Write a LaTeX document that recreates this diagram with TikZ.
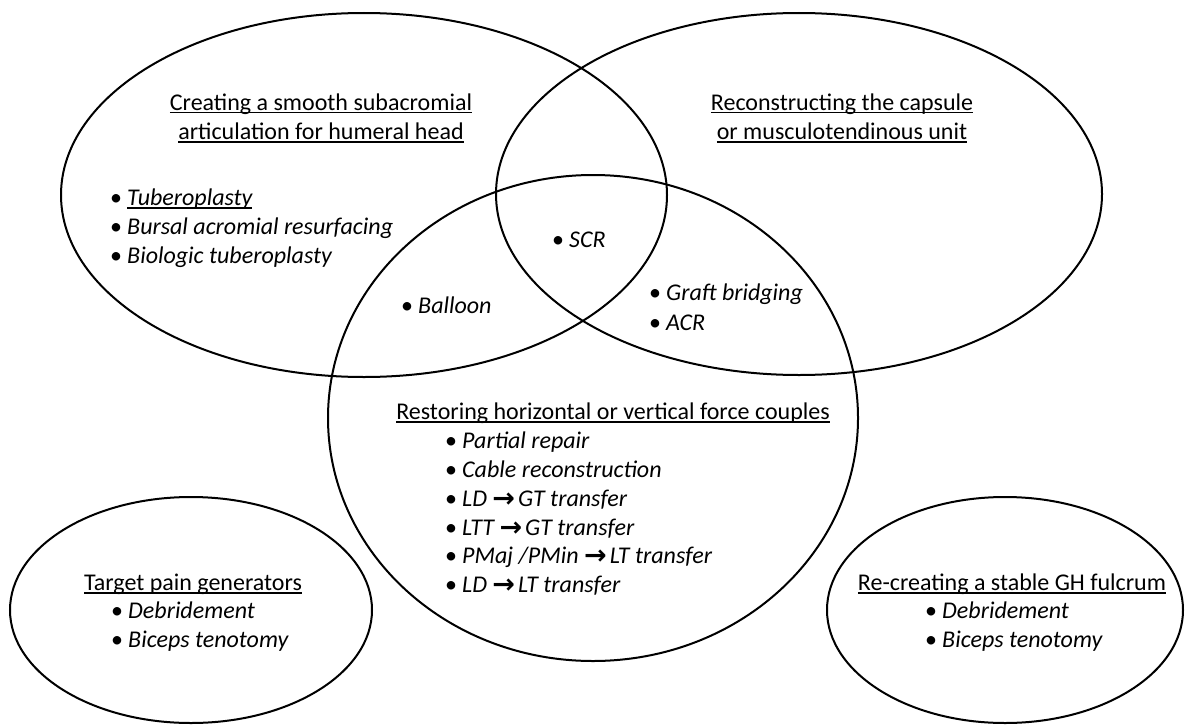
\documentclass[tikz,border=0pt]{standalone}
\usepackage{fontspec}
\setmainfont{Carlito}
\newfontfamily\symfont{DejaVu Sans}
\newcommand\ulbox[1]{\setbox0=\hbox{#1}\rlap{\rule[-3.5pt]{\wd0}{1.3pt}}\box0}
\newcommand\bul{\makebox[22pt][c]{\upshape •}}
\newcommand\arrw{\raisebox{-1pt}{\upshape\symfont\bfseries\fontsize{27pt}{29pt}\selectfont →}\hspace{3pt}}
\tikzset{
  ring/.style={draw=black, line width=2pt},
  ttl/.style={inner sep=0pt, anchor=base, font=\fontsize{24pt}{29pt}\selectfont},
  item/.style={inner sep=0pt, anchor=base west, font=\fontsize{24pt}{29pt}\selectfont\itshape}
}
\begin{document}
\begin{tikzpicture}[x=1pt,y=-1pt]
\useasboundingbox (0,0) rectangle (1185,725);
% circles
\draw[ring] (364,195) ellipse [x radius=303, y radius=182];
\draw[ring] (799,194) ellipse [x radius=303, y radius=181];
\draw[ring] (593,418) ellipse [x radius=265, y radius=243];
\draw[ring] (191,610) ellipse [x radius=181, y radius=113];
\draw[ring] (1005,610) ellipse [x radius=178, y radius=113];
% left set
\node[ttl] (t1a) at (321,110) {\ulbox{Creating a smooth subacromial}};
\node[ttl] (t1b) at (321,139) {\ulbox{articulation for humeral head}};
\node[item] (l1) at (105,205) {\bul\ulbox{Tuberoplasty}};
\node[item] (l2) at (105,234) {\bul Bursal acromial resurfacing};
\node[item] (l3) at (105,263) {\bul Biologic tuberoplasty};
% right set
\node[ttl] (t2a) at (842,110) {\ulbox{Reconstructing the capsule}};
\node[ttl] (t2b) at (842,139) {\ulbox{or musculotendinous unit}};
% intersections
\node[item] (scr) at (547,247) {\bul SCR};
\node[item] (bal) at (396,313) {\bul Balloon};
\node[item] (gb) at (644,300) {\bul Graft bridging};
\node[item] (acr) at (644,330) {\bul ACR};
% bottom set
\node[ttl] (t3) at (613,419) {\ulbox{Restoring horizontal or vertical force couples}};
\node[item] (r1) at (440,448) {\bul Partial repair};
\node[item] (r2) at (440,477) {\bul Cable reconstruction};
\node[item] (r3) at (440,506) {\bul LD \arrw GT transfer};
\node[item] (r4) at (440,535) {\bul LTT \arrw GT transfer};
\node[item] (r5) at (440,563) {\bul PMaj /PMin \arrw LT transfer};
\node[item] (r6) at (440,592) {\bul LD \arrw LT transfer};
% bottom left
\node[ttl] (t4) at (193,590) {\ulbox{Target pain generators}};
\node[item] (p1) at (106,618) {\bul Debridement};
\node[item] (p2) at (106,647) {\bul Biceps tenotomy};
% bottom right
\node[ttl] (t5) at (1012,590) {\ulbox{Re-creating a stable GH fulcrum}};
\node[item] (f1) at (920,618) {\bul Debridement};
\node[item] (f2) at (920,647) {\bul Biceps tenotomy};
\end{tikzpicture}
\end{document}
